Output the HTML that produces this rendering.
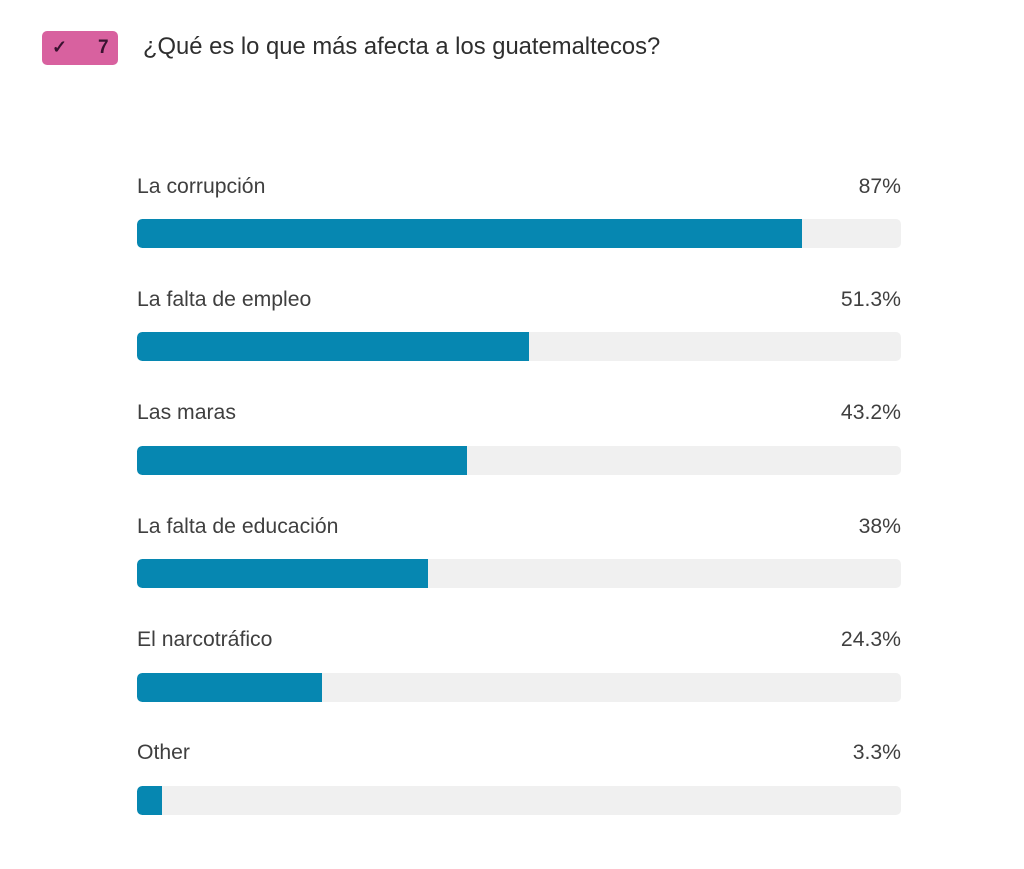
<!DOCTYPE html>
<html><head><meta charset="utf-8"><style>
body{margin:0;width:1024px;height:869px;background:#fff;font-family:"Liberation Sans",sans-serif;position:relative;overflow:hidden}
.badge{position:absolute;left:42px;top:31px;width:76px;height:34px;background:#d8619f;border-radius:5px}
.badge span{position:absolute;top:6px;font-size:19px;font-weight:bold;color:#3a1230}
.title{position:absolute;left:143px;top:33px;font-size:23.8px;color:#2e2e2e}
.lab,.pct{position:absolute;font-size:21.2px;color:#3f3f3f;line-height:22px}
.pct{right:123px;text-align:right}
.lab{left:137px}
.track{position:absolute;left:137px;width:764px;height:29px;background:#f0f0f0;border-radius:5px;overflow:hidden}
.fill{height:100%;background:#0687b1;border-radius:5px 0 0 5px}
</style></head><body>
<div class="badge"><span style="left:10px;font-size:18px">✓</span><span style="left:56px">7</span></div>
<div class="title">¿Qué es lo que más afecta a los guatemaltecos?</div>

<div class="lab" style="top:176px">La corrupción</div><div class="pct" style="top:176px">87%</div>
<div class="track" style="top:219px"><div class="fill" style="width:665px"></div></div>

<div class="lab" style="top:289px">La falta de empleo</div><div class="pct" style="top:289px">51.3%</div>
<div class="track" style="top:332px"><div class="fill" style="width:392px"></div></div>

<div class="lab" style="top:402px">Las maras</div><div class="pct" style="top:402px">43.2%</div>
<div class="track" style="top:446px"><div class="fill" style="width:330px"></div></div>

<div class="lab" style="top:516px">La falta de educación</div><div class="pct" style="top:516px">38%</div>
<div class="track" style="top:559px"><div class="fill" style="width:291px"></div></div>

<div class="lab" style="top:629px">El narcotráfico</div><div class="pct" style="top:629px">24.3%</div>
<div class="track" style="top:673px"><div class="fill" style="width:185px"></div></div>

<div class="lab" style="top:742px">Other</div><div class="pct" style="top:742px">3.3%</div>
<div class="track" style="top:786px"><div class="fill" style="width:25px"></div></div>
</body></html>
